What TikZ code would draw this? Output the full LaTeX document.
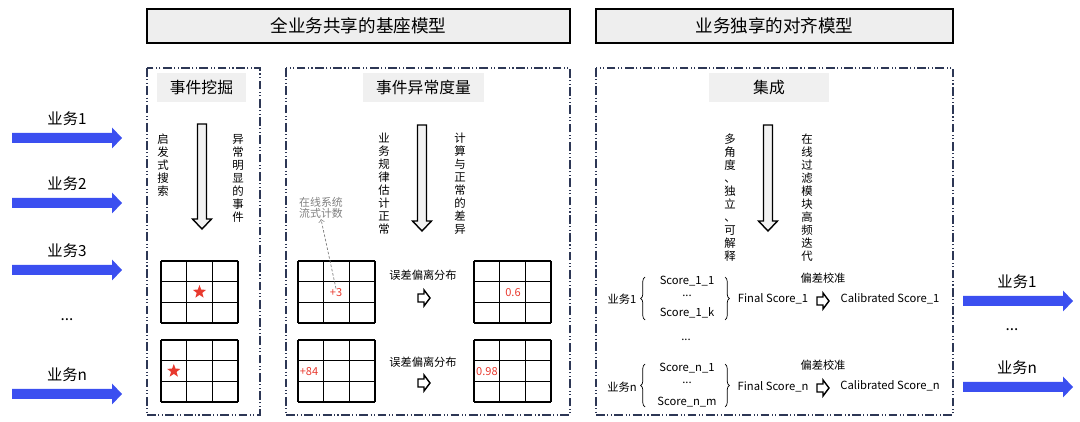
\documentclass[tikz,border=0pt]{standalone}
\usepackage{fontspec}
\setmainfont{Noto Sans CJK SC}
\usetikzlibrary{shapes.geometric, decorations.pathreplacing}
\definecolor{bizblue}{RGB}{59,79,240}
\definecolor{framenavy}{RGB}{45,55,85}
\definecolor{starred}{RGB}{232,57,46}

% 3x3 grid, top left corner at (#1,#2)
\newcommand{\ninegrid}[2]{%
  \foreach \i in {0,1,2,3} {
    \draw[gridline] (#1+\i*25.7,#2) -- (#1+\i*25.7,#2+62);
    \draw[gridline] (#1,#2+\i*20.7) -- (#1+77,#2+\i*20.7);
  }}
% hollow arrow pointing down: x, top, tip
\newcommand{\hollowdown}[3]{%
  \draw[hollow] (#1-4.5,#2) -- (#1+4.5,#2) -- (#1+4.5,#3-10) -- (#1+9.5,#3-10)
    -- (#1,#3) -- (#1-9.5,#3-10) -- (#1-4.5,#3-10) -- cycle;}
% small hollow arrow pointing right: centre x, y
\newcommand{\hollowright}[2]{%
  \draw[hollow, fill=white] (#1-6,#2-4) -- (#1,#2-4) -- (#1,#2-8) -- (#1+6,#2)
    -- (#1,#2+8) -- (#1,#2+4) -- (#1-6,#2+4) -- cycle;}
% blue flow arrow: x from, x to, y
\newcommand{\blueflow}[3]{%
  \fill[bizblue] (#1,#3-5) -- (#2-10,#3-5) -- (#2-10,#3-10.5) -- (#2,#3)
    -- (#2-10,#3+10.5) -- (#2-10,#3+5) -- (#1,#3+5) -- cycle;}

\begin{document}
\begin{tikzpicture}[x=0.02cm, y=-0.02cm,
    headbox/.style={draw=black, line width=0.8pt, fill=gray!13, minimum height=0.68cm, font=\fontsize{10}{12}\selectfont},
    tabbox/.style={fill=gray!12, minimum height=0.58cm, font=\fontsize{9}{11}\selectfont},
    dashframe/.style={draw=framenavy, line width=0.9pt, dash pattern=on 5pt off 1.4pt on 0.6pt off 1.4pt on 0.6pt off 1.4pt},
    vlabel/.style={align=center, anchor=north, inner sep=0pt, font=\fontsize{6.5}{7.37}\selectfont},
    bizlabel/.style={inner sep=0pt, font=\fontsize{8.7}{10}\selectfont},
    smalltext/.style={inner sep=0pt, font=\fontsize{6.4}{7.5}\selectfont},
    rednum/.style={inner sep=0pt, text=starred, font=\fontsize{6.3}{7}\selectfont},
    hollow/.style={draw=black, line width=0.8pt, fill=gray!10},
    gridline/.style={line width=0.85pt},
    redstar/.style={star, star points=5, star point ratio=2.4, fill=starred, minimum size=0.28cm, inner sep=0pt}]
  \useasboundingbox (0,0) rectangle (1080,422);

  % headers
  \node[headbox, minimum width=8.46cm] (shared) at (358.5,26) {全业务共享的基座模型};
  \node[headbox, minimum width=7.14cm] (aligned) at (774.5,26) {业务独享的对齐模型};

  % frames
  \draw[dashframe] (147,68) rectangle (260,415);
  \draw[dashframe] (286,68) rectangle (570,415);
  \draw[dashframe] (596,68) rectangle (953,415);

  \node[tabbox, minimum width=1.78cm] (mining) at (201.5,87.5) {事件挖掘};
  \node[tabbox, minimum width=2.42cm] (measure) at (423.5,87.5) {事件异常度量};
  \node[tabbox, minimum width=2.4cm] (ensemble) at (769,88) {集成};

  % input flows
  \foreach \y/\t [count=\k] in {138/1, 203/2, 270/3, 394/n} {
    \blueflow{12}{122}{\y}
    \node[bizlabel] (in\k) at (67,\y-19) {业务\t};
  }
  \node[bizlabel] (indots) at (67,320) {...};

  % event mining
  \hollowdown{202}{124}{229}
  \node[vlabel] (heur) at (163,134) {启\\发\\式\\搜\\索};
  \node[vlabel] (obvious) at (238,134) {异\\常\\明\\显\\的\\事\\件};
  \ninegrid{161}{261}
  \ninegrid{161}{340}
  \node[redstar] (star1) at (199.5,292) {};
  \node[redstar] (star2) at (173.8,371) {};

  % anomaly measure
  \hollowdown{422}{125}{231}
  \node[vlabel] (estim) at (384,133) {业\\务\\规\\律\\估\\计\\正\\常};
  \node[vlabel] (diff) at (460,133) {计\\算\\与\\正\\常\\的\\差\\异};
  \ninegrid{298}{261}
  \ninegrid{298}{340}
  \ninegrid{474}{261}
  \ninegrid{474}{340}
  \node[rednum] (plus3) at (336,293) {+3};
  \node[rednum] (plus84) at (309,372) {+84};
  \node[rednum] (v06) at (513,293) {0.6};
  \node[rednum] (v098) at (487,372) {0.98};
  \node[smalltext, text=gray, align=center, font=\fontsize{6.2}{6.6}\selectfont] (online) at (321,208) {在线系统\\流式计数};
  \draw[->, gray, line width=0.4pt, dash pattern=on 1.5pt off 1pt] (plus3.north) -- (online.south);
  \node[smalltext] (dev1) at (423,275) {误差偏离分布};
  \node[smalltext] (dev2) at (423,362) {误差偏离分布};
  \hollowright{424}{298}
  \hollowright{424}{383}

  % ensemble
  \hollowdown{768}{125}{231}
  \node[vlabel] (multi) at (730,134) {多\\角\\度\\、\\独\\立\\、\\可\\解\\释};
  \node[vlabel] (filter) at (807,134) {在\\线\\过\\滤\\模\\块\\高\\频\\迭\\代};

  \node[smalltext] (biz1) at (622,299) {业务1};
  \node[smalltext] (s11) at (687,281) {Score\_1\_1};
  \node[smalltext] (s1d) at (687,296) {...};
  \node[smalltext] (s1k) at (687,313) {Score\_1\_k};
  \draw[decorate, decoration={brace, amplitude=2.5pt}, line width=0.4pt] (645,320) -- (645,277);
  \draw[decorate, decoration={brace, amplitude=2.5pt}, line width=0.4pt] (725,277) -- (725,320);
  \node[smalltext] (final1) at (773,299) {Final Score\_1};
  \node[smalltext] (calib1) at (823,278) {偏差校准};
  \hollowright{823}{301}
  \node[smalltext] (cal1) at (890,299) {Calibrated Score\_1};

  \node[smalltext] (midots) at (686,340) {...};

  \node[smalltext] (bizn) at (622,387) {业务n};
  \node[smalltext] (sn1) at (687,368) {Score\_n\_1};
  \node[smalltext] (snd) at (687,383) {...};
  \node[smalltext] (snm) at (687,402) {Score\_n\_m};
  \draw[decorate, decoration={brace, amplitude=2.5pt}, line width=0.4pt] (645,407) -- (645,364);
  \draw[decorate, decoration={brace, amplitude=2.5pt}, line width=0.4pt] (725,364) -- (725,407);
  \node[smalltext] (finaln) at (773,387) {Final Score\_n};
  \node[smalltext] (calibn) at (823,365) {偏差校准};
  \hollowright{823}{388}
  \node[smalltext] (caln) at (890,386) {Calibrated Score\_n};

  % output flows
  \blueflow{963}{1073}{301}
  \node[bizlabel] (out1) at (1017,282) {业务1};
  \node[bizlabel] (outdots) at (1012,330) {...};
  \blueflow{963}{1073}{387}
  \node[bizlabel] (outn) at (1017,368) {业务n};
\end{tikzpicture}
\end{document}
